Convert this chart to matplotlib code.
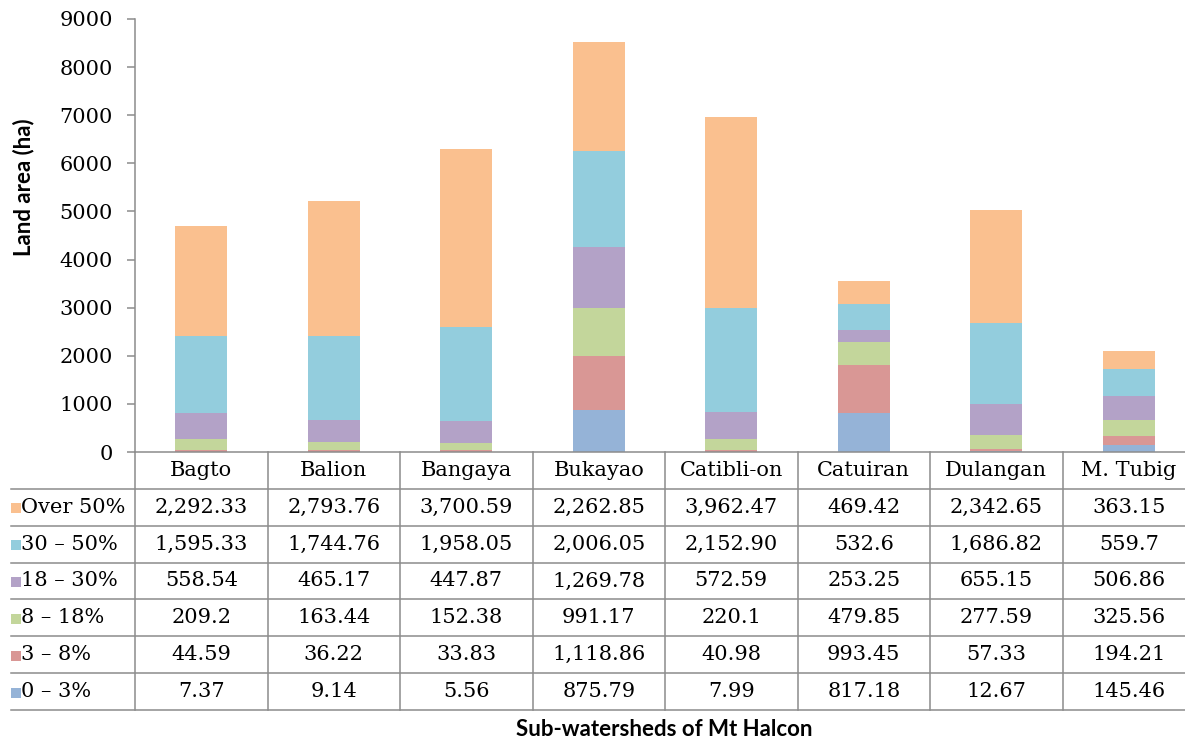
import matplotlib
matplotlib.use('Agg')
from matplotlib import pyplot as plt
import numpy as np

# sub-watersheds and slope classes (top row of the table first)
watersheds = ['Bagto', 'Balion', 'Bangaya', 'Bukayao', 'Catibli-on', 'Catuiran', 'Dulangan', 'M. Tubig']
slope_classes = ['Over 50%', '30 \u2013 50%', '18 \u2013 30%', '8 \u2013 18%', '3 \u2013 8%', '0 \u2013 3%']

over_50 = ['2,292.33', '2,793.76', '3,700.59', '2,262.85', '3,962.47', '469.42', '2,342.65', '363.15']
s30_50 = ['1,595.33', '1,744.76', '1,958.05', '2,006.05', '2,152.90', '532.6', '1,686.82', '559.7']
s18_30 = ['558.54', '465.17', '447.87', '1,269.78', '572.59', '253.25', '655.15', '506.86']
s8_18 = ['209.2', '163.44', '152.38', '991.17', '220.1', '479.85', '277.59', '325.56']
s3_8 = ['44.59', '36.22', '33.83', '1,118.86', '40.98', '993.45', '57.33', '194.21']
s0_3 = ['7.37', '9.14', '5.56', '875.79', '7.99', '817.18', '12.67', '145.46']

colors = ['#FAC08F', '#93CDDD', '#B3A2C7', '#C3D69B', '#D99795', '#95B3D7']
yticks = [0, 1000, 2000, 3000, 4000, 5000, 6000, 7000, 8000, 9000]

rows = [over_50, s30_50, s18_30, s8_18, s3_8, s0_3]


def to_num(labels):
    return np.array([float(s.replace(',', '')) for s in labels])


W, H = 1185, 742
fig = plt.figure(figsize=(W / 100, H / 100), dpi=100)

line_c = '#8C8C8C'
serif = 'DejaVu Serif'

# bar chart area
ax = fig.add_axes([135 / W, (H - 452) / H, 1060 / W, 433 / H])
x = np.arange(len(watersheds))
bottom = np.zeros(len(watersheds))
# stack from the smallest slope class upwards
for lab, vals, col in zip(slope_classes[::-1], rows[::-1], colors[::-1]):
    v = to_num(vals)
    ax.bar(x, v, 0.39, bottom=bottom, color=col, edgecolor='none', label=lab)
    bottom += v

ax.set_xlim(-0.5, len(watersheds) - 0.5)
ax.set_ylim(0, 9000)
ax.set_yticks(yticks)
ax.set_yticklabels([str(t) for t in yticks], fontfamily=serif, fontsize=15)
ax.tick_params(axis='y', length=6, width=1.1, color=line_c, pad=10)
ax.set_xticks([])
for s in ['top', 'right']:
    ax.spines[s].set_visible(False)
for s in ['left', 'bottom']:
    ax.spines[s].set_color(line_c)
    ax.spines[s].set_linewidth(1.1)
ax.set_ylabel('Land area (ha)', fontfamily='Lato', fontweight='bold', fontsize=16)
ax.yaxis.set_label_coords(-0.095, 0.612)

# data table below the bars
left_px = 11
tx0 = -0.5 - (135 - left_px) / 132.5
tab = fig.add_axes([left_px / W, (H - 710) / H, (1195 - left_px) / W, 258 / H])
tab.set_xlim(tx0, len(watersheds) - 0.5)
tab.set_ylim(7, 0)
tab.axis('off')

for j in range(1, 8):
    tab.plot([tx0, len(watersheds) - 0.5], [j, j], color=line_c, lw=1.1, clip_on=False)
for i in range(len(watersheds) + 1):
    tab.plot([i - 0.5, i - 0.5], [0, 7], color=line_c, lw=1.1, clip_on=False)

for i, name in enumerate(watersheds):
    tab.text(i, 0.5, name, ha='center', va='center', fontfamily=serif, fontsize=15)

for r, (lab, vals, col) in enumerate(zip(slope_classes, rows, colors)):
    yc = r + 1.5
    tab.text(tx0 + 10 / 132.5, yc, lab, ha='left', va='center', fontfamily=serif, fontsize=15)
    tab.plot([tx0 + 5 / 132.5], [yc + 0.03], marker='s', markersize=7, color=col,
             markeredgewidth=0, clip_on=False)
    for i, s in enumerate(vals):
        tab.text(i, yc, s, ha='center', va='center', fontfamily=serif, fontsize=15)

fig.text(664 / W, 1 - 730 / H, 'Sub-watersheds of Mt Halcon', ha='center', va='center',
         fontfamily='Lato', fontweight='bold', fontsize=16)

fig.savefig('out.png', dpi=100)
